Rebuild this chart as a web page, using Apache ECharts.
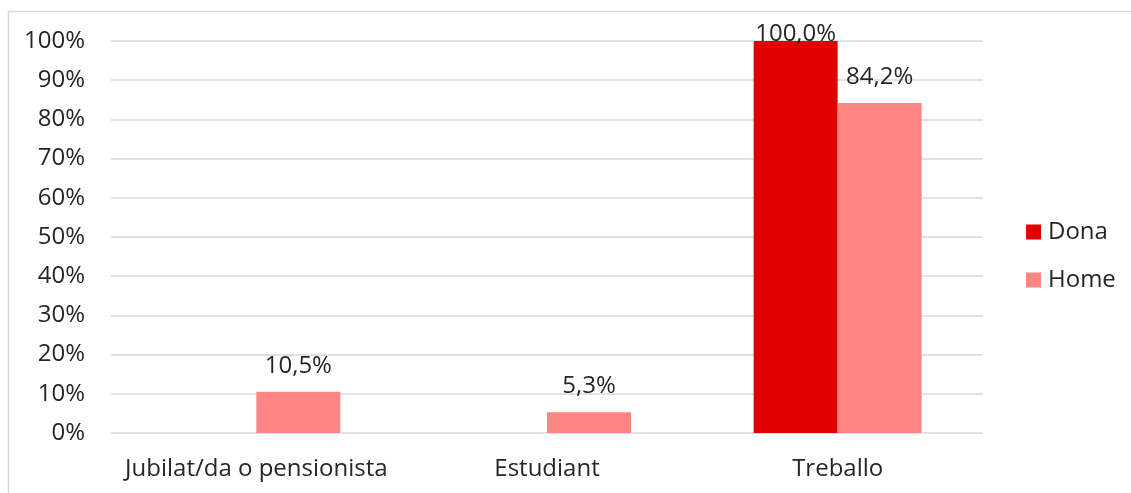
<!DOCTYPE html>
<html>
<head>
<meta charset="utf-8">
<script src="https://cdn.jsdelivr.net/npm/echarts@6/dist/echarts.min.js"></script>
<style>
  html, body { margin: 0; padding: 0; background: #fff; }
  #chart { width: 1131px; height: 493px; }
</style>
</head>
<body>
<div id="chart"></div>
<script>
// Situació laboral per sexe (%)
const categories = ['Jubilat/da o pensionista', 'Estudiant', 'Treballo'];
const dona = [0, 0, 100.0];
const home = [10.5, 5.3, 84.2];
const seriesNames = ['Dona', 'Home'];
const yTicks = [0, 10, 20, 30, 40, 50, 60, 70, 80, 90, 100];

const FONT = '"Open Sans", "Noto Sans", sans-serif';
const TEXT = '#262626';
const FS = 24;

function fmt(v) {
  return v.toFixed(1).replace('.', ',') + '%';
}

function toData(arr) {
  return arr.map(v => {
    if (v === 0) return { value: v, label: { show: false } };
    if (v >= 99) return { value: v, label: { distance: -5 } };
    return { value: v };
  });
}

const chart = echarts.init(document.getElementById('chart'), null, { renderer: 'canvas' });

chart.setOption({
  animation: false,
  backgroundColor: '#ffffff',
  graphic: [{
    type: 'rect',
    shape: { x: 8.5, y: 11.5, width: 1200, height: 600 },
    style: { fill: 'none', stroke: '#d9d9d9', lineWidth: 1.5 },
    silent: true
  }],
  grid: { left: 111, right: 148, top: 41, bottom: 60, containLabel: false },
  legend: {
    orient: 'vertical',
    left: 1026,
    top: 220,
    padding: 0,
    itemWidth: 15,
    itemHeight: 15,
    itemGap: 24,
    icon: 'rect',
    textStyle: { fontFamily: FONT, fontSize: FS, color: TEXT, padding: [0, 0, 0, 2] },
    data: seriesNames
  },
  xAxis: {
    type: 'category',
    data: categories,
    axisLine: { show: false },
    axisTick: { show: false },
    axisLabel: { interval: 0, fontFamily: FONT, fontSize: FS, color: TEXT, margin: 24 }
  },
  yAxis: {
    type: 'value',
    min: yTicks[0],
    max: yTicks[yTicks.length - 1],
    interval: 10,
    axisLine: { show: false },
    axisTick: { show: false },
    splitLine: { lineStyle: { color: '#d9d9d9', width: 1.5 } },
    axisLabel: {
      fontFamily: FONT, fontSize: FS, color: TEXT, margin: 26,
      formatter: v => v + '%'
    }
  },
  series: [
    {
      name: seriesNames[0],
      type: 'bar',
      barWidth: 84,
      barGap: '0%',
      itemStyle: { color: '#e00000' },
      label: {
        show: true, position: 'top', distance: 14,
        fontFamily: FONT, fontSize: FS, color: TEXT,
        formatter: p => fmt(p.value)
      },
      data: toData(dona)
    },
    {
      name: seriesNames[1],
      type: 'bar',
      barWidth: 84,
      barGap: '0%',
      itemStyle: { color: '#ff8585' },
      label: {
        show: true, position: 'top', distance: 14,
        fontFamily: FONT, fontSize: FS, color: TEXT,
        formatter: p => fmt(p.value)
      },
      data: toData(home)
    }
  ]
});
</script>
</body>
</html>
